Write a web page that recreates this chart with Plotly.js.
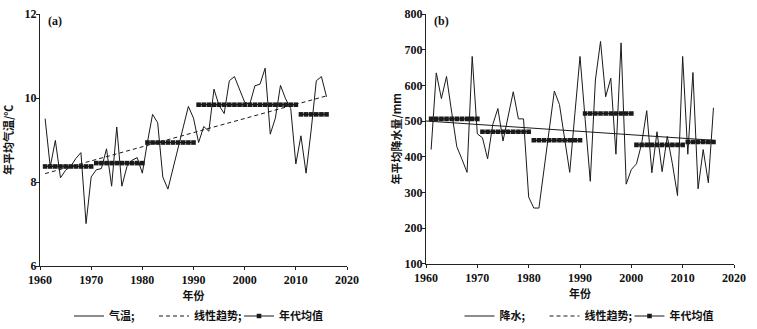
<!DOCTYPE html>
<html>
<head>
<meta charset="utf-8">
<script src="https://cdn.plot.ly/plotly-3.0.1.min.js"></script>
<style>html,body{margin:0;padding:0;background:#fff;overflow:hidden;}#chart{width:757px;height:329px;}</style>
</head>
<body>
<div id="chart"></div>
<script>
const years = [1961,1962,1963,1964,1965,1966,1967,1968,1969,1970,
  1971,1972,1973,1974,1975,1976,1977,1978,1979,1980,
  1981,1982,1983,1984,1985,1986,1987,1988,1989,1990,
  1991,1992,1993,1994,1995,1996,1997,1998,1999,2000,
  2001,2002,2003,2004,2005,2006,2007,2008,2009,2010,
  2011,2012,2013,2014,2015,2016];

const tempValues = [9.51,8.36,8.99,8.10,8.28,8.37,8.56,8.70,7.01,8.12,
  8.29,8.32,8.79,7.90,9.31,7.90,8.37,8.52,8.58,8.21,
  8.95,9.61,9.41,8.12,7.83,8.32,8.81,9.31,9.80,9.52,
  8.94,9.32,9.21,10.21,9.82,9.63,10.41,10.51,10.20,9.90,
  9.85,10.29,10.33,10.71,9.14,9.52,10.30,9.98,9.75,8.43,
  9.10,8.21,9.24,10.41,10.51,10.03];

const precipValues = [420,635,563,625,525,428,393,356,681,464,
  453,394,490,535,444,511,582,506,506,287,
  256,256,365,475,584,546,450,356,520,681,
  505,331,615,723,568,620,407,719,323,364,
  380,436,529,355,470,358,457,380,291,681,
  407,636,310,420,327,537];

const decadeStart = [1961,1971,1981,1991,2001,2011];
const decadeEnd   = [1970,1980,1990,2000,2010,2016];
const tempDecadeMeans   = [8.37,8.45,8.94,9.84,9.84,9.61];
const precipDecadeMeans = [506,470,446,521,433,441];

const tempTrendYears = [1961,2016];
const tempTrendValues = [8.20,10.05];
const precipTrendYears = [1960,2016];
const precipTrendValues = [500,446];

const xTicks = [1960,1970,1980,1990,2000,2010,2020];

function decadeSeries(means){
  const xs=[], ys=[];
  for(let i=0;i<decadeStart.length;i++){
    years.forEach(function(y){ if(y>=decadeStart[i] && y<=decadeEnd[i]){ xs.push(y); ys.push(means[i]); } });
    xs.push(null); ys.push(null);
  }
  return {x:xs,y:ys};
}
const tD = decadeSeries(tempDecadeMeans);
const pD = decadeSeries(precipDecadeMeans);

const INK = '#1a1a1a';
function serif(){ return {family:'Liberation Serif', size:12, color:'#111', weight:700}; }
function cjk(){ return {family:'Noto Sans CJK SC', size:11, color:'#111', weight:700}; }

const traces = [
  {x:years, y:tempValues, type:'scatter', mode:'lines', name:'气温;', line:{color:INK,width:1}, xaxis:'x', yaxis:'y', legend:'legend'},
  {x:tempTrendYears, y:tempTrendValues, type:'scatter', mode:'lines', name:'线性趋势;', line:{color:INK,width:1,dash:'4px,3px'}, xaxis:'x', yaxis:'y', legend:'legend'},
  {x:tD.x, y:tD.y, type:'scatter', mode:'lines+markers', name:'年代均值', connectgaps:false, line:{color:INK,width:1.2}, marker:{symbol:'square',size:4.6,color:INK}, xaxis:'x', yaxis:'y', legend:'legend'},
  {x:years, y:precipValues, type:'scatter', mode:'lines', name:'降水;', line:{color:INK,width:1}, xaxis:'x2', yaxis:'y2', legend:'legend2'},
  {x:precipTrendYears, y:precipTrendValues, type:'scatter', mode:'lines', name:'线性趋势;', line:{color:INK,width:1}, xaxis:'x2', yaxis:'y2', legend:'legend2', showlegend:false},
  // legend-only entry: the reference legend shows a dashed sample for the trend
  {x:[null], y:[null], type:'scatter', mode:'lines', name:'线性趋势;', line:{color:INK,width:1,dash:'4px,3px'}, xaxis:'x2', yaxis:'y2', legend:'legend2', hoverinfo:'skip'},
  {x:pD.x, y:pD.y, type:'scatter', mode:'lines+markers', name:'年代均值', connectgaps:false, line:{color:INK,width:1.2}, marker:{symbol:'square',size:4.6,color:INK}, xaxis:'x2', yaxis:'y2', legend:'legend2'}
];

function xax(domain, anchor){
  return {domain:domain, anchor:anchor, range:[1960,2020], tickvals:xTicks, showline:true, linecolor:'#222', linewidth:1,
    ticks:'outside', ticklen:3, tickcolor:'#222', showgrid:false, zeroline:false, tickfont:serif(),
    title:{text:'年份', font:cjk(), standoff:3}, fixedrange:true, automargin:false};
}
function yax(domain, range, dtick, title, standoff, anchor){
  return {domain:domain, range:range, dtick:dtick, showline:true, linecolor:'#222', linewidth:1,
    ticks:'outside', ticklen:3, tickcolor:'#222', showgrid:false, zeroline:false, tickfont:serif(),
    ticklabelstandoff:-3,
    title:{text:title, font:cjk(), standoff:standoff}, anchor:anchor, fixedrange:true, automargin:false};
}

const layout = {
  width:757, height:329, margin:{l:0,r:0,t:0,b:0,autoexpand:false}, paper_bgcolor:'#fff', plot_bgcolor:'#fff',
  xaxis: xax([40/757, 347/757], 'y'),
  yaxis: yax([(329-266)/329, (329-14)/329], [6,12], 2, '年平均气温/℃', 8, 'x'),
  xaxis2: xax([426/757, 734/757], 'y2'),
  yaxis2: yax([(329-263.7)/329, (329-14)/329], [100,800], 100, '年平均降水量/mm', 0, 'x2'),
  legend: {orientation:'h', x:196.5/757, xanchor:'center', y:13/329, yanchor:'middle', font:cjk(),
    entrywidth:40, entrywidthmode:'pixels', itemgap:0, bgcolor:'rgba(0,0,0,0)', traceorder:'normal'},
  legend2: {orientation:'h', x:587/757, xanchor:'center', y:13/329, yanchor:'middle', font:cjk(),
    entrywidth:40, entrywidthmode:'pixels', itemgap:0, bgcolor:'rgba(0,0,0,0)', traceorder:'normal'},
  annotations: [
    {text:'(a)', xref:'paper', yref:'paper', x:46/757, y:(329-21)/329, xanchor:'left', yanchor:'middle', showarrow:false, font:serif()},
    {text:'(b)', xref:'paper', yref:'paper', x:432/757, y:(329-21)/329, xanchor:'left', yanchor:'middle', showarrow:false, font:serif()}
  ],
  showlegend:true
};

Plotly.newPlot('chart', traces, layout, {displayModeBar:false, staticPlot:true});
</script>
</body>
</html>
